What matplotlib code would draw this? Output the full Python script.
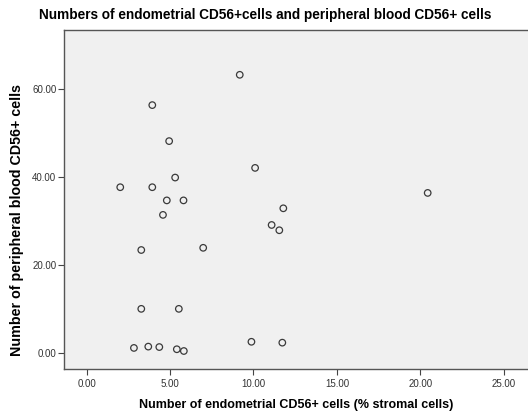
import matplotlib
matplotlib.use('Agg')
import matplotlib.pyplot as plt
from matplotlib.ticker import FormatStrFormatter

# Valori
endo_cd56 = [9.18, 3.94, 4.95, 10.10, 5.31, 2.02, 3.94, 4.81, 5.81, 4.58,
             11.79, 11.09, 11.55, 20.44, 3.28, 6.99, 3.28, 5.53, 2.84, 3.70,
             4.36, 5.41, 5.83, 9.88, 11.73]
blood_cd56 = [63.3, 56.4, 48.2, 42.1, 39.9, 37.7, 37.7, 34.7, 34.7, 31.4,
              32.9, 29.1, 27.9, 36.4, 23.4, 23.9, 10.0, 10.0, 1.1, 1.4,
              1.3, 0.8, 0.4, 2.5, 2.3]

xticks = [0, 5, 10, 15, 20, 25]
yticks = [0, 20, 40, 60]

plt.rcParams['font.family'] = ['Liberation Sans', 'DejaVu Sans']

fig = plt.figure(figsize=(5.28, 4.18), dpi=100)
ax = fig.add_axes([0.1212, 0.1172, 0.8788, 0.811])
ax.set_facecolor('#f0f0f0')

ax.scatter(endo_cd56, blood_cd56, s=22, facecolors='none', edgecolors='#3a3a3a', linewidths=0.9)

ax.set_xlim(-1.35, 26.45)
ax.set_ylim(-3.7, 73.5)
ax.set_xticks(xticks)
ax.set_yticks(yticks)
ax.xaxis.set_major_formatter(FormatStrFormatter('%.2f'))
ax.yaxis.set_major_formatter(FormatStrFormatter('%.2f'))
ax.tick_params(labelsize=7, color='#444444', length=4, width=0.8, labelcolor='#333333')
ax.tick_params(axis='y', pad=1.5)
for s in ax.spines.values():
    s.set_color('#555555')
    s.set_linewidth(1.0)
ax.spines['right'].set_visible(False)

# titolo ed etichette posizionati come nell'originale
fig.text(265.5 / 528, 1 - 15 / 418, 'Numbers of endometrial CD56+cells and peripheral blood CD56+ cells',
         fontsize=9.8, fontweight='bold', ha='center', va='center')
fig.text(296 / 528, 1 - 405 / 418, 'Number of endometrial CD56+ cells (% stromal cells)',
         fontsize=9, fontweight='bold', ha='center', va='center')
fig.text(17 / 528, 1 - 220 / 418, 'Number of peripheral blood CD56+ cells',
         fontsize=10.3, fontweight='bold', ha='center', va='center', rotation=90)

fig.savefig('out.png', dpi=100)
